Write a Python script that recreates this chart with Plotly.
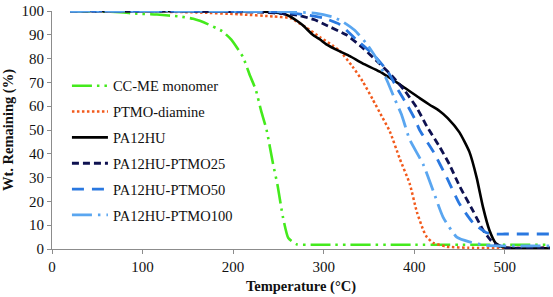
import plotly.graph_objects as go

# ---- data ----
cc_me_T = [20, 70, 94, 116, 141, 156, 172, 188, 198, 211, 218.5, 225, 231, 237, 244, 249, 255, 261, 270, 290, 400, 550]
cc_me_W = [100, 99.6, 98.9, 98.5, 97.7, 96.7, 94.5, 91.5, 88, 80.6, 73, 67, 58, 50, 36, 27, 13.5, 4.6, 2, 1.8, 1.8, 1.8]

ptmo_T = [20, 100, 160, 207, 244, 263, 281, 296, 310, 318, 332, 343, 354, 365, 373, 384, 395, 403, 410, 414, 421, 436, 460, 550]
ptmo_W = [100, 99.8, 99.4, 98.6, 97.7, 97, 93, 89, 85.5, 83.2, 76.6, 70.5, 63, 55.2, 49.5, 38, 27.5, 15.5, 8, 5, 2.6, 1, 0.5, 0.5]

pa_T = [20, 150, 220, 240, 255, 263, 270, 277, 288, 296, 303, 318, 329, 343, 362, 387, 406, 417, 428, 437, 450, 461, 469, 476, 483, 490, 498, 510, 550]
pa_W = [100, 99.9, 99.8, 99.6, 98.8, 97.7, 96, 94, 90, 88, 86, 83, 81, 78, 74.5, 68.4, 63.4, 60.6, 58, 55, 49, 40.8, 30, 17.6, 8, 2.5, 0.8, 0.3, 0.3]

p25_T = [20, 150, 230, 260, 274, 290, 303, 325, 343, 362, 376, 390, 403, 414, 428, 439, 450, 465, 476, 485, 492, 500, 550]
p25_W = [100, 99.9, 99.5, 98.8, 98, 96.3, 94, 90, 84.6, 77.8, 72.5, 66.3, 59.3, 51.5, 43, 35.5, 26.5, 16, 8, 3.5, 1.5, 0.5, 0.5]

p50_T = [20, 200, 250, 281, 300, 318, 336, 354, 370, 382, 393, 401, 406, 421, 436, 450, 465, 480, 490, 500, 550]
p50_W = [100, 99.9, 99.6, 98.4, 97, 94.3, 88, 82, 75, 67, 60, 54.4, 50, 41, 30, 19, 11, 6.8, 6.3, 6.3, 6.3]

p100_T = [20, 200, 260, 292, 310, 321, 334, 348, 360, 370, 379, 386, 395, 410, 421, 432, 447, 461, 480, 550]
p100_W = [100, 99.9, 99.7, 99, 97.5, 95.5, 92, 86, 79, 70.8, 62.6, 56.5, 46, 35.5, 24.4, 13.3, 5, 3, 1.5, 1.3]

x_ticks = [0, 100, 200, 300, 400, 500]
y_ticks = [0, 10, 20, 30, 40, 50, 60, 70, 80, 90, 100]

series = [
    ("CC-ME monomer", cc_me_T, cc_me_W, "#44ea1c", "20px,5px,2.5px,5px,2.5px,5px", 2.6),
    ("PTMO-diamine", ptmo_T, ptmo_W, "#f25a1c", "2.5px,2.5px", 2.5),
    ("PA12HU", pa_T, pa_W, "#000000", "solid", 2.6),
    ("PA12HU-PTMO25", p25_T, p25_W, "#0e1150", "7px,4px", 2.8),
    ("PA12HU-PTMO50", p50_T, p50_W, "#2a78e0", "12px,8px", 2.8),
    ("PA12HU-PTMO100", p100_T, p100_W, "#5aa6f0", "20px,6px,2.5px,6px", 2.8),
]

fig = go.Figure()
for i, (name, xs, ys, col, dash, w) in enumerate(series):
    fig.add_trace(go.Scatter(
        x=xs, y=ys, mode="lines", name=name, legendgroup=f"g{i}",
        line=dict(color=col, width=w, dash=dash, shape="spline", smoothing=0.5),
    ))

font_family = "'Liberation Serif', 'Times New Roman', Times, serif"
fig.update_layout(
    width=553, height=297,
    margin=dict(l=52, r=3, t=6, b=48),
    paper_bgcolor="white", plot_bgcolor="white",
    font=dict(family=font_family, size=15, color="#111111"),
    showlegend=True,
    legend=dict(
        x=0.03, y=0.753, xanchor="left", yanchor="top",
        bgcolor="rgba(0,0,0,0)", font=dict(size=14.5, color="#111111"),
        itemwidth=36, tracegroupgap=4,
    ),
    xaxis=dict(
        range=[0, 550], tickvals=x_ticks, showgrid=False, zeroline=False,
        showline=True, linecolor="#8c8c8c", linewidth=1.2,
        ticks="outside", ticklen=4, tickcolor="#8c8c8c", ticklabeloverflow="allow",
        title=dict(text="<b>Temperature (°C)</b>", font=dict(size=14.5), standoff=6),
    ),
    yaxis=dict(
        range=[0, 100], tickvals=y_ticks, showgrid=False, zeroline=False,
        showline=True, linecolor="#8c8c8c", linewidth=1.2,
        ticks="outside", ticklen=4, tickcolor="#8c8c8c", ticklabeloverflow="allow",
        title=dict(text="<b>Wt. Remaining (%)</b>", font=dict(size=14.5), standoff=6),
    ),
)

fig.write_html("out.html", config={"displayModeBar": False},
               post_script="document.body.style.margin='0';")
